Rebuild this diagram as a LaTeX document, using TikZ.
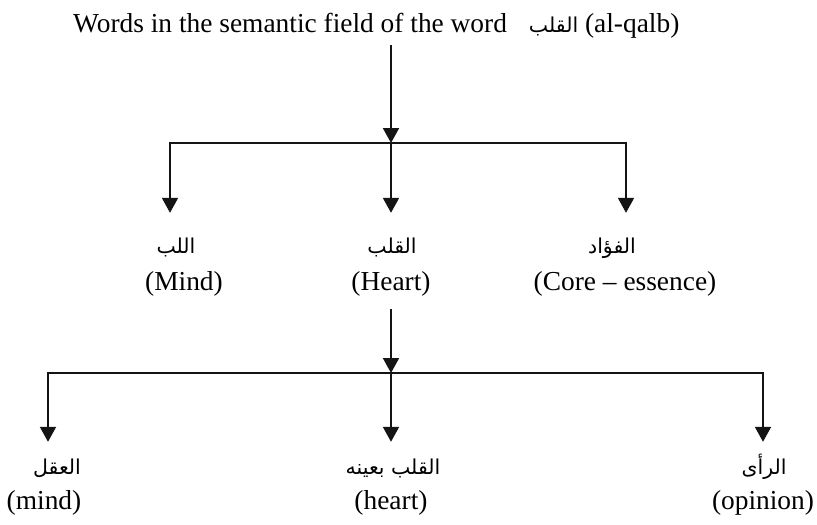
\documentclass[tikz,border=0pt]{standalone}
\usepackage{fontspec}
\setmainfont{Liberation Serif}
\newfontfamily\arfont[Script=Arabic]{DejaVu Sans}
\TeXXeTstate=1
\usetikzlibrary{arrows.meta}
\newcommand{\artext}[1]{{\arfont\fontsize{20.5}{24}\selectfont\beginR #1\endR}}
\begin{document}
\begin{tikzpicture}[x=1pt,y=1pt,
  conn/.style={line width=2pt, draw=black!92},
  arr/.style={conn, -{Triangle[length=15pt,width=16pt]}},
  en/.style={font=\fontsize{27.4}{32}\selectfont, inner sep=0pt, anchor=base, text depth=19pt},
  arab/.style={font=\arfont\fontsize{20.5}{24}\selectfont, inner sep=0pt, anchor=base, text depth=4pt},
  lvltwo/.style={arab, text height=40pt},
  lvlthree/.style={arab, text height=32pt}]
\useasboundingbox (0,0) rectangle (817,-525);

% title
\node[en, text depth=13pt, anchor=base west] (title) at (73,-32) {Words in the semantic field of the word\hspace{22pt}\artext{القلب} (al-qalb)};

% junctions
\coordinate (j1) at (391,-143);
\coordinate (c1l) at (170,-143);
\coordinate (c1r) at (626,-143);
\coordinate (j2) at (391,-373);
\coordinate (c2l) at (48,-373);
\coordinate (c2r) at (763,-373);

% level 2 labels
\node[lvltwo] (lubbA) at (176,-253) {\artext{اللب}};
\node[en] (lubbE) at (184,-290) {(Mind)};
\node[lvltwo] (qalbA) at (392,-253) {\artext{القلب}};
\node[en] (qalbE) at (391,-290) {(Heart)};
\node[lvltwo] (fuadA) at (612,-253) {\artext{الفؤاد}};
\node[en] (fuadE) at (625,-290) {(Core – essence)};

% level 3 labels
\node[lvlthree] (aqlA) at (57,-474) {\artext{العقل}};
\node[en] (aqlE) at (44,-509) {(mind)};
\node[lvlthree] (bainaA) at (393,-474) {\artext{القلب بعينه}};
\node[en] (bainaE) at (391,-509) {(heart)};
\node[lvlthree] (rayA) at (764,-474) {\artext{الرأى}};
\node[en] (rayE) at (763,-509) {(opinion)};

% connectors level 1
\draw[arr] (title.south -| j1) -- (j1);
\draw[arr] (j1) -- (c1l) -- (c1l |- lubbA.north);
\draw[arr] (j1) -- (j1 |- qalbA.north);
\draw[arr] (j1) -- (c1r) -- (c1r |- fuadA.north);

% connectors level 2
\draw[arr] (qalbE.south -| j2) -- (j2);
\draw[arr] (j2) -- (c2l) -- (c2l |- aqlA.north);
\draw[arr] (j2) -- (j2 |- bainaA.north);
\draw[arr] (j2) -- (c2r) -- (c2r |- rayA.north);
\end{tikzpicture}
\end{document}
